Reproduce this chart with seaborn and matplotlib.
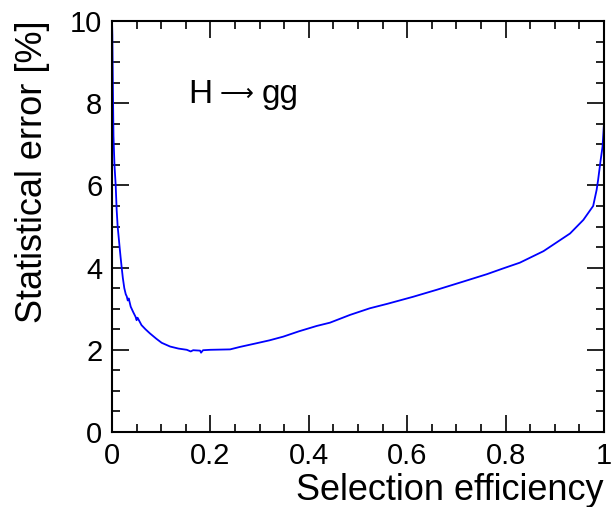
import matplotlib
matplotlib.use("Agg")
import matplotlib.pyplot as plt
from matplotlib.ticker import MultipleLocator
import seaborn as sns
import pandas as pd

efficiency = [0.0, 0.0007, 0.002, 0.003, 0.005, 0.0075, 0.0095, 0.0115, 0.0135, 0.0156,
              0.0175, 0.0197, 0.022, 0.025, 0.028, 0.030, 0.032, 0.034, 0.038, 0.043,
              0.048, 0.050, 0.052, 0.060, 0.068, 0.077, 0.090, 0.101, 0.118, 0.135,
              0.152, 0.160, 0.165, 0.179, 0.181, 0.185, 0.200, 0.240, 0.260, 0.294,
              0.320, 0.348, 0.380, 0.416, 0.443, 0.484, 0.524, 0.560, 0.612, 0.660,
              0.714, 0.762, 0.795, 0.829, 0.877, 0.931, 0.958, 0.978, 0.985, 0.988,
              0.993, 0.997, 1.0]
stat_error = [10.0, 9.66, 8.2, 7.2, 6.5, 6.0, 5.4, 5.0, 4.75, 4.48,
              4.25, 4.0, 3.75, 3.5, 3.35, 3.30, 3.20, 3.25, 3.05, 2.92,
              2.80, 2.72, 2.78, 2.60, 2.50, 2.40, 2.27, 2.17, 2.08, 2.03,
              2.00, 1.96, 1.99, 1.98, 1.93, 1.99, 2.00, 2.01, 2.07, 2.16,
              2.23, 2.32, 2.45, 2.58, 2.66, 2.85, 3.01, 3.12, 3.29, 3.46,
              3.66, 3.84, 3.98, 4.12, 4.40, 4.83, 5.16, 5.50, 5.89, 6.13,
              6.6, 6.94, 7.51]

x_ticks = [0, 0.2, 0.4, 0.6, 0.8, 1]
x_ticklabels = ["0", "0.2", "0.4", "0.6", "0.8", "1"]
y_ticks = [0, 2, 4, 6, 8, 10]
y_ticklabels = ["0", "2", "4", "6", "8", "10"]

sns.set_style("ticks")
plt.rcParams['font.family'] = ['Liberation Sans', 'DejaVu Sans']
plt.rcParams['text.color'] = 'black'
plt.rcParams['xtick.color'] = 'black'
plt.rcParams['ytick.color'] = 'black'
plt.rcParams['axes.labelcolor'] = 'black'

df = pd.DataFrame({"eff": efficiency, "err": stat_error})

fig = plt.figure(figsize=(6.11, 5.07), dpi=100)
ax = fig.add_axes([112/611, 1 - 432/507, (604-112)/611, (432-21)/507])

sns.lineplot(data=df, x="eff", y="err", sort=False, estimator=None,
             color="#0000ff", linewidth=1.3, ax=ax)

ax.set_xlim(0, 1)
ax.set_ylim(0, 10)
ax.set_xticks(x_ticks)
ax.set_xticklabels(x_ticklabels)
ax.set_yticks(y_ticks)
ax.set_yticklabels(y_ticklabels)
ax.xaxis.set_minor_locator(MultipleLocator(0.05))
ax.yaxis.set_minor_locator(MultipleLocator(0.5))
ax.tick_params(which="both", direction="in", top=True, right=True,
               width=1.2, colors="black", labelcolor="black")
ax.tick_params(which="major", length=12, labelsize=21, pad=7)
ax.tick_params(which="minor", length=6)
for s in ax.spines.values():
    s.set_linewidth(1.5)
    s.set_color("black")

ax.set_xlabel("")
ax.set_ylabel("")
fig.text(604/611, 1 - 491/507, "Selection efficiency", ha="right", va="center",
         fontsize=26, color="black")
fig.text(33/611, 1 - 20/507, "Statistical error [%]", ha="center", va="top",
         rotation=90, fontsize=26, color="black")
ax.text(0.155, 8.0, "H", fontsize=24, ha="left", va="baseline", color="black")
ax.text(0.2195, 8.22, "\u27F6", fontsize=17, ha="left", va="center",
        color="black", family=['DejaVu Sans'])
ax.text(0.305, 8.0, "gg", fontsize=24, ha="left", va="baseline", color="black")

fig.savefig("out.png", dpi=100)
